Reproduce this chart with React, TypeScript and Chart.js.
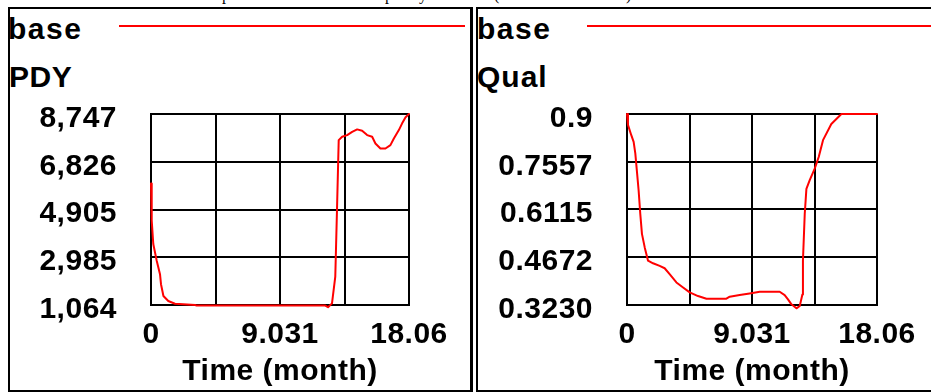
import React, { useEffect, useRef } from "react";
import { Chart, registerables } from "chart.js";

Chart.register(...registerables);

// ---- data ----
const timeMin = 0;
const timeMax = 18.06;
const xGridValues = [0, 4.515, 9.031, 13.545, 18.06];
const xTickLabels = ["0", "", "9.031", "", "18.06"];

const pdyTime = [0, 0.05, 0.16, 0.4, 0.63, 0.7, 0.87, 1.21, 1.68, 3.09, 3.2, 12.2, 12.39, 12.67, 12.9, 13.02, 13.14, 13.38, 13.73, 14.08, 14.43, 14.78, 15.13, 15.48, 15.71, 16.06, 16.41, 16.76, 17.0, 17.35, 17.58, 17.82, 18.06];
const pdyValues = [5950, 4460, 3518, 2843, 2304, 1900, 1427, 1225, 1116, 1064, 1040, 1040, 975, 1130, 2210, 4905, 7696, 7830, 7898, 8031, 8128, 8071, 7898, 7830, 7562, 7360, 7360, 7494, 7764, 8100, 8371, 8613, 8747];
const pdyTickValues = [1064, 2984.75, 4905.5, 6826.25, 8747];
const pdyTickLabels = ["1,064", "2,985", "4,905", "6,826", "8,747"];

const qualTime = [0, 0.07, 0.31, 0.48, 0.6, 0.72, 0.84, 0.96, 1.08, 1.28, 1.52, 1.88, 2.36, 2.72, 3.08, 3.57, 4.05, 4.53, 5.13, 5.74, 7.18, 7.42, 8.14, 8.86, 9.59, 11.03, 11.39, 11.63, 11.88, 12.24, 12.48, 12.67, 12.71, 12.84, 12.96, 13.2, 13.56, 13.85, 14.16, 14.76, 15.49, 18.06];
const qualValues = [0.9, 0.867, 0.836, 0.816, 0.781, 0.725, 0.669, 0.598, 0.538, 0.497, 0.457, 0.449, 0.441, 0.434, 0.416, 0.391, 0.376, 0.361, 0.35, 0.342, 0.342, 0.348, 0.353, 0.358, 0.363, 0.363, 0.353, 0.34, 0.325, 0.313, 0.32, 0.355, 0.457, 0.598, 0.674, 0.7, 0.735, 0.77, 0.821, 0.87, 0.9, 0.9];
const qualTickValues = [0.323, 0.46725, 0.6115, 0.75575, 0.9];
const qualTickLabels = ["0.3230", "0.4672", "0.6115", "0.7557", "0.9"];

const seriesName = "base";
const xTitle = "Time (month)";

const FONT = "'Liberation Sans', Arial, sans-serif";

const spacingPlugin = {
  id: "letterSpacing",
  beforeDraw(chart: any) {
    try {
      (chart.ctx as any).letterSpacing = "0.5px";
    } catch (e) {}
  },
};

function makeConfig(
  times: number[],
  values: number[],
  tickValues: number[],
  tickLabels: string[],
  yWidth: number,
  rightPad: number
): any {
  const font = { family: FONT, size: 30, weight: "bold" as const, lineHeight: 1 };
  return {
    type: "line",
    data: {
      datasets: [
        {
          label: seriesName,
          data: times.map((t, i) => ({ x: t, y: values[i] })),
          borderColor: "#ff0000",
          borderWidth: 2,
          pointRadius: 0,
          tension: 0,
          borderJoinStyle: "round",
          borderCapStyle: "round",
          clip: false,
        },
      ],
    },
    options: {
      animation: false,
      responsive: false,
      maintainAspectRatio: false,
      devicePixelRatio: 1,
      layout: { padding: { top: 18, right: rightPad, left: 0, bottom: 0 } },
      plugins: { legend: { display: false }, tooltip: { enabled: false } },
      scales: {
        x: {
          type: "linear",
          min: timeMin,
          max: timeMax,
          afterBuildTicks: (s: any) => {
            s.ticks = xGridValues.map((v) => ({ value: v }));
          },
          afterFit: (s: any) => {
            s.height = 85;
          },
          ticks: {
            callback: (_v: any, i: number) => xTickLabels[i],
            autoSkip: false,
            maxRotation: 0,
            minRotation: 0,
            padding: 0,
            font,
            color: "#000",
          },
          grid: {
            color: "#000",
            lineWidth: 2,
            drawTicks: true,
            tickLength: 15,
            tickColor: "rgba(0,0,0,0)",
          },
          border: { display: true, color: "#000", width: 2 },
          title: {
            display: true,
            text: xTitle,
            font,
            color: "#000",
            padding: { top: 0, bottom: 3 },
          },
        },
        y: {
          type: "linear",
          min: tickValues[0],
          max: tickValues[tickValues.length - 1],
          afterBuildTicks: (s: any) => {
            s.ticks = tickValues.map((v) => ({ value: v }));
          },
          afterFit: (s: any) => {
            s.width = yWidth;
          },
          ticks: {
            callback: (_v: any, i: number) => tickLabels[i],
            autoSkip: false,
            padding: 0,
            labelOffset: 4.5,
            font,
            color: "#000",
          },
          grid: {
            color: "#000",
            lineWidth: 2,
            drawTicks: true,
            tickLength: 34,
            tickColor: "rgba(0,0,0,0)",
          },
          border: { display: true, color: "#000", width: 2 },
        },
      },
    },
    plugins: [spacingPlugin],
  };
}

const textStyle: React.CSSProperties = {
  position: "absolute",
  fontFamily: FONT,
  fontWeight: "bold",
  fontSize: 30,
  lineHeight: "30px",
  letterSpacing: "0.5px",
  color: "#000",
  whiteSpace: "nowrap",
};

const captionStyle: React.CSSProperties = {
  position: "absolute",
  top: -13,
  fontFamily: "'Liberation Serif', 'Times New Roman', serif",
  fontSize: 16,
  lineHeight: "16px",
  color: "#000",
  whiteSpace: "nowrap",
};

export default function App() {
  const leftRef = useRef<HTMLCanvasElement>(null);
  const rightRef = useRef<HTMLCanvasElement>(null);

  useEffect(() => {
    const c1 = new Chart(
      leftRef.current as HTMLCanvasElement,
      makeConfig(pdyTime, pdyValues, pdyTickValues, pdyTickLabels, 141, 61)
    );
    const c2 = new Chart(
      rightRef.current as HTMLCanvasElement,
      makeConfig(qualTime, qualValues, qualTickValues, qualTickLabels, 149, 54)
    );
    return () => {
      c1.destroy();
      c2.destroy();
    };
  }, []);

  return (
    <div
      style={{
        position: "absolute",
        left: 0,
        top: 0,
        width: 931,
        height: 392,
        overflow: "hidden",
        background: "#fff",
      }}
    >
      {/* caption above (cut off) */}
      <span style={{ ...captionStyle, left: 222 }}>p</span>
      <span style={{ ...captionStyle, left: 385 }}>p</span>
      <span style={{ ...captionStyle, left: 419 }}>y</span>
      <span style={{ ...captionStyle, left: 494 }}>(</span>
      <span style={{ ...captionStyle, left: 626 }}>)</span>

      {/* panel frames */}
      <div
        style={{
          position: "absolute",
          left: 8,
          top: 7,
          width: 465,
          height: 385,
          boxSizing: "border-box",
          borderTop: "2px solid #000",
          borderLeft: "2px solid #000",
          borderBottom: "2px solid #000",
          borderRight: "3px solid #000",
        }}
      />
      <div
        style={{
          position: "absolute",
          left: 476,
          top: 7,
          width: 500,
          height: 385,
          boxSizing: "border-box",
          border: "2px solid #000",
        }}
      />

      {/* left panel labels */}
      <div style={{ ...textStyle, left: 8, top: 14, letterSpacing: "1.5px" }}>{seriesName}</div>
      <div style={{ position: "absolute", left: 119, top: 25, width: 346, height: 2, background: "#ff0000" }} />
      <div style={{ ...textStyle, left: 9, top: 62 }}>PDY</div>

      {/* right panel labels */}
      <div style={{ ...textStyle, left: 477, top: 14, letterSpacing: "1.5px" }}>{seriesName}</div>
      <div style={{ position: "absolute", left: 587, top: 25, width: 344, height: 2, background: "#ff0000" }} />
      <div style={{ ...textStyle, left: 477, top: 62, letterSpacing: "1px" }}>Qual</div>

      <canvas
        ref={leftRef}
        width={460}
        height={294}
        style={{ position: "absolute", left: 10, top: 96, width: 460, height: 294 }}
      />
      <canvas
        ref={rightRef}
        width={453}
        height={294}
        style={{ position: "absolute", left: 478, top: 96, width: 453, height: 294 }}
      />
    </div>
  );
}
